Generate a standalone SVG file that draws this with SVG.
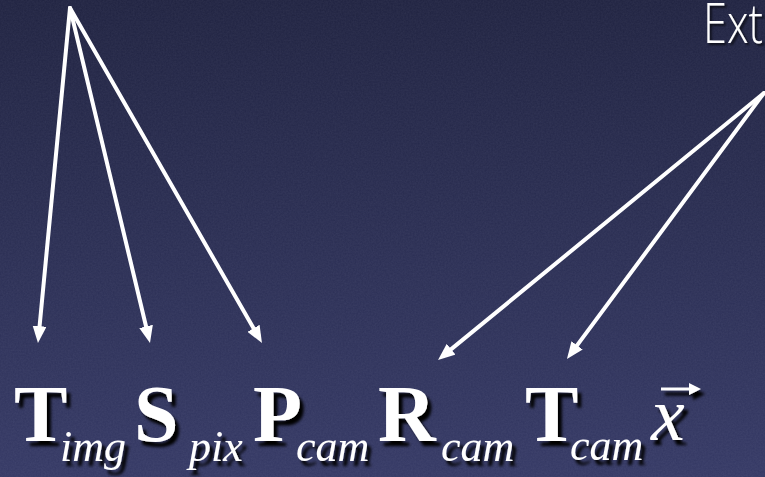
<svg xmlns="http://www.w3.org/2000/svg" width="765" height="477" viewBox="0 0 765 477">
  <defs>
    <linearGradient id="bg" x1="0" y1="0" x2="0" y2="1">
      <stop offset="0" stop-color="#1f2240"/>
      <stop offset="1" stop-color="#343864"/>
    </linearGradient>
    <filter id="noise" x="0" y="0" width="100%" height="100%">
      <feTurbulence type="fractalNoise" baseFrequency="0.6" numOctaves="3" seed="7" result="n"/>
      <feColorMatrix type="matrix" values="0 0 0 0 0.8  0 0 0 0 0.82  0 0 0 0 1  0 0 0 0.07 0"/>
    </filter>
    <filter id="shadow" x="-20%" y="-20%" width="150%" height="150%">
      <feDropShadow dx="4" dy="5" stdDeviation="1.8" flood-color="#000" flood-opacity="1"/>
    </filter>
    <filter id="lshadow" x="-20%" y="-20%" width="150%" height="150%">
      <feDropShadow dx="2" dy="2" stdDeviation="1" flood-color="#000" flood-opacity="0.7"/>
    </filter>
    <marker id="ah" markerUnits="userSpaceOnUse" markerWidth="18" markerHeight="14" refX="5" refY="7" orient="auto">
      <path d="M0,0 L17,7 L0,14 z" fill="#fff"/>
    </marker>
  </defs>
  <style>
    .bold { font-family: "Liberation Serif", "Times New Roman", serif; font-weight: bold; font-size: 80px; fill: #fff; }
    .sub { font-family: "Liberation Serif", "Times New Roman", serif; font-style: italic; font-size: 44px; fill: #fff; }
    .vec { font-family: "Liberation Serif", "Times New Roman", serif; font-style: italic; font-size: 76px; fill: #fff; }
    .lbl { font-family: "Open Sans", "Noto Sans", sans-serif; font-weight: 300; font-size: 56px; fill: #fff; }
    .conn line { stroke: #fff; stroke-width: 4; stroke-linecap: round; marker-end: url(#ah); }
  </style>

  <rect width="765" height="477" fill="url(#bg)"/>
  <rect width="765" height="477" filter="url(#noise)"/>

  <g id="label-extrinsic" filter="url(#lshadow)">
    <text class="lbl" x="703" y="43" textLength="60" lengthAdjust="spacingAndGlyphs">Ext</text>
  </g>

  <g id="connectors" class="conn">
    <line x1="70" y1="8" x2="39.1" y2="331.1"/>
    <line x1="70" y1="8" x2="147.2" y2="331.3"/>
    <line x1="70" y1="8" x2="256.0" y2="332.6"/>
    <line x1="764" y1="93" x2="447.3" y2="352.4"/>
    <line x1="764" y1="93" x2="574.1" y2="349.4"/>
  </g>

  <g id="term-T-img" filter="url(#shadow)">
    <text class="bold" x="14" y="441">T</text>
    <text class="sub" x="60" y="461">img</text>
  </g>
  <g id="term-S-pix" filter="url(#shadow)">
    <text class="bold" x="134" y="441">S</text>
    <text class="sub" x="189" y="461">pix</text>
  </g>
  <g id="term-P-cam" filter="url(#shadow)">
    <text class="bold" x="253" y="441">P</text>
    <text class="sub" x="296" y="461">cam</text>
  </g>
  <g id="term-R-cam" filter="url(#shadow)">
    <text class="bold" x="378" y="441">R</text>
    <text class="sub" x="441" y="461">cam</text>
  </g>
  <g id="term-T-cam" filter="url(#shadow)">
    <text class="bold" x="525" y="441">T</text>
    <text class="sub" x="570" y="460">cam</text>
  </g>
  <g id="term-x-vec" filter="url(#shadow)">
    <text class="vec" x="651" y="440">x</text>
    <line x1="661" y1="389" x2="692" y2="389" stroke="#fff" stroke-width="3"/>
    <path d="M689,383 L701,389 L689,395 z" fill="#fff"/>
  </g>
</svg>
